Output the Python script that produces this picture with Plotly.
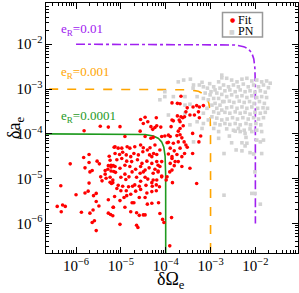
import numpy as np
import plotly.graph_objects as go

# log10(dOmega_e), log10(da_e) pairs
fit_points = [
(-5.82,-3.93),(-5.46,-3.83),(-5.28,-3.85),(-5.83,-4.53),(-5.71,-4.46),(-6.13,-4.67),(-5.80,-4.76),(-5.71,-4.64),
(-5.53,-4.61),(-5.48,-4.67),(-5.26,-4.50),(-5.15,-4.30),(-5.24,-4.59),(-5.28,-4.71),(-5.22,-4.74),(-5.29,-4.79),
(-5.35,-4.82),(-5.64,-4.82),(-5.17,-4.71),(-5.69,-4.85),(-6.34,-5.16),(-5.45,-4.96),(-5.33,-4.99),(-5.24,-4.97),
(-5.16,-4.84),(-5.35,-4.90),(-5.42,-5.05),(-5.24,-5.08),(-5.18,-5.03),(-5.21,-5.11),(-5.71,-5.10),(-6.00,-5.36),
(-5.80,-5.32),(-5.73,-5.28),(-5.55,-5.33),(-5.61,-5.38),(-5.28,-5.47),(-5.55,-5.51),(-5.49,-5.61),(-5.17,-5.64),
(-6.42,-5.62),(-6.30,-5.59),(-6.24,-5.62),(-6.33,-5.74),(-5.88,-5.75),(-5.69,-5.77),(-5.62,-5.70),(-5.28,-5.77),
(-5.23,-5.80),(-5.18,-5.83),(-5.59,-5.94),(-5.64,-5.98),(-5.55,-6.16),
(-5.22,-4.83),(-5.12,-4.86),(-5.00,-4.97),(-4.91,-4.90),(-4.89,-5.02),(-4.82,-4.96),(-4.75,-4.85),(-4.65,-4.97),
(-4.57,-4.88),(-4.50,-4.85),(-4.46,-4.97),(-4.40,-5.01),(-4.56,-5.06),(-4.31,-5.09),(-4.20,-5.03),(-4.09,-4.94),
(-4.17,-4.83),(-4.30,-5.17),(-4.44,-5.15),(-4.59,-5.17),(-4.69,-5.14),(-4.74,-5.17),(-4.83,-5.18),(-4.96,-5.17),
(-5.06,-5.15),(-5.18,-5.09),(-5.09,-5.22),(-5.00,-5.27),(-4.88,-5.27),(-4.78,-5.35),(-4.67,-5.28),(-4.56,-5.24),
(-4.42,-5.32),(-4.21,-5.27),(-3.85,-5.09),(-5.14,-5.40),(-5.02,-5.49),(-4.93,-5.42),(-4.87,-5.38),(-4.59,-5.42),
(-4.46,-5.42),(-4.75,-5.54),(-4.71,-5.54),(-4.41,-5.57),(-4.31,-5.55),(-4.16,-5.54),(-5.17,-5.64),(-4.91,-5.64),
(-4.78,-5.74),(-4.65,-5.76),(-4.59,-5.82),(-4.50,-5.81),(-4.46,-5.81),(-4.13,-5.78),(-4.07,-5.91),(-4.04,-5.98),
(-3.87,-5.87),(-5.02,-6.02),(-4.65,-6.04),(-4.62,-6.09),(-3.91,-6.50),
(-5.02,-3.84),(-4.56,-3.68),(-4.46,-3.63),(-4.40,-3.73),(-4.21,-3.64),(-4.11,-3.85),(-4.29,-3.90),(-4.24,-3.86),
(-4.57,-3.94),(-3.86,-3.31),(-3.68,-3.33),(-3.66,-3.16),(-3.74,-3.60),(-3.70,-3.69),(-3.62,-3.64),(-3.83,-3.71),
(-3.88,-3.84),(-3.68,-3.88),(-3.72,-3.94),(-4.91,-4.06),(-4.46,-4.06),(-4.33,-4.10),(-3.90,-4.06),(-3.75,-4.04),
(-3.64,-4.09),(-3.94,-4.19),(-3.83,-4.21),(-3.72,-4.18),(-5.13,-4.29),(-5.06,-4.32),(-4.98,-4.32),(-4.86,-4.29),
(-4.80,-4.32),(-4.69,-4.29),(-4.56,-4.25),(-4.50,-4.31),(-4.35,-4.31),(-4.24,-4.25),(-4.13,-4.36),(-5.13,-4.44),
(-5.03,-4.46),(-4.96,-4.41),(-4.88,-4.47),(-4.78,-4.51),(-4.71,-4.44),(-4.61,-4.47),(-4.51,-4.40),(-4.41,-4.36),
(-4.36,-4.47),(-4.27,-4.44),(-4.20,-4.46),(-3.90,-4.32),(-3.81,-4.38),(-3.68,-4.32),(-3.86,-4.51),(-3.75,-4.46),
(-3.64,-4.51),(-5.09,-4.58),(-4.98,-4.55),(-4.87,-4.61),(-4.76,-4.62),(-4.63,-4.58),(-4.53,-4.66),(-4.42,-4.61),
(-4.31,-4.66),(-4.20,-4.62),(-5.22,-4.70),(-5.13,-4.73),(-5.02,-4.77),(-4.91,-4.70),(-4.80,-4.73),(-4.67,-4.79),
(-4.56,-4.73),(-4.46,-4.81),(-4.37,-4.76),(-4.24,-4.79),(-4.17,-4.70),(-3.90,-4.66),(-3.81,-4.71),(-3.72,-4.62),
(-3.64,-4.73),(-3.86,-4.81),
(-4.28,-4.08),(-4.09,-4.06),(-4.02,-4.05),(-3.94,-4.03),(-3.68,-4.02),(-3.40,-3.99),(-3.22,-4.05),(-3.26,-4.18),
(-3.59,-4.18),(-3.55,-4.25),(-3.52,-4.30),(-3.40,-4.44),(-3.58,-4.44),(-3.97,-4.20),(-3.94,-4.45),(-3.86,-4.55),
(-3.79,-4.62),(-3.46,-4.77),(-3.91,-4.85),(-3.97,-4.96),(-3.99,-5.03),(-3.31,-5.11),(-4.14,-5.18),(-4.28,-5.03),
(-4.21,-5.14),(-4.31,-5.29),(-4.13,-4.73),(-4.31,-4.51),(-4.09,-4.62),(-4.17,-4.85),(-4.28,-4.88),(-4.09,-4.96),
(-3.74,-3.32),(-3.52,-3.42),(-3.39,-3.40),(-3.31,-3.37),(-3.25,-3.40),(-3.16,-3.37),(-3.55,-3.51),
(-3.46,-3.58),(-3.36,-3.58),(-3.27,-3.51),(-3.25,-3.64),(-3.66,-3.62),(-3.58,-3.62),(-3.86,-3.69),(-3.68,-3.73),
(-3.61,-3.82),(-4.33,-3.84),(-4.20,-3.82),(-4.50,-3.77),
]

pn_points = [
(-3.19,-2.85),(-3.25,-2.91),(-3.16,-2.95),(-3.02,-2.88),(-2.93,-2.95),(-2.75,-2.75),(-2.82,-2.84),(-2.79,-2.98),
(-2.71,-2.91),(-2.90,-3.02),(-3.07,-2.98),(-2.99,-3.06),(-2.86,-3.09),(-2.75,-3.12),(-3.01,-3.13),(-3.12,-3.09),
(-2.93,-3.21),(-2.82,-3.21),(-2.73,-3.28),(-3.05,-3.24),(-2.90,-3.32),(-2.79,-3.36),(-2.97,-3.36),(-2.86,-3.43),
(-2.75,-3.47),(-2.93,-3.51),(-2.82,-3.54),(-2.97,-3.62),(-2.86,-3.65),(-2.75,-3.69),(-2.90,-3.77),(-2.79,-3.80),
(-4.13,-3.24),(-4.02,-3.06),(-3.83,-3.17),(-3.57,-3.36),(-3.46,-3.34),(-3.57,-3.17),(-3.38,-2.91),(-3.39,-2.98),
(-3.30,-3.17),(-3.16,-3.21),(-3.08,-3.43),(-3.16,-3.54),(-3.05,-3.69),(-3.16,-3.77),(-2.93,-3.88),(-2.82,-3.95),
(-3.30,-3.73),(-3.46,-3.80),(-3.94,-3.58),(-3.57,-3.54),(-3.19,-3.88),(-4.02,-3.17),(-3.72,-2.84),(-3.60,-2.80),
(-3.45,-2.78),
(-2.75,-2.69),(-2.64,-2.76),(-2.53,-2.80),(-2.41,-2.84),(-2.30,-2.78),(-2.19,-2.76),(-2.08,-2.82),(-1.97,-2.80),
(-1.86,-2.84),(-1.75,-2.82),(-1.67,-2.87),(-2.60,-2.95),(-2.49,-2.91),(-2.38,-2.95),(-2.27,-2.89),(-2.16,-2.95),
(-2.04,-2.91),(-1.93,-2.95),(-1.82,-2.91),(-1.71,-2.97),(-2.68,-3.04),(-2.57,-3.02),(-2.45,-3.06),(-2.34,-3.02),
(-2.23,-3.06),(-2.12,-3.04),(-2.01,-3.07),(-1.89,-3.04),(-1.78,-3.07),(-2.64,-3.17),(-2.53,-3.13),(-2.41,-3.17),
(-2.30,-3.15),(-2.19,-3.19),(-2.08,-3.15),(-1.97,-3.19),(-1.86,-3.17),(-1.75,-3.19),(-2.70,-3.28),(-2.58,-3.27),
(-2.48,-3.30),(-2.36,-3.27),(-2.25,-3.30),(-2.13,-3.28),(-2.03,-3.32),(-1.91,-3.28),(-1.80,-3.32),(-2.64,-3.42),
(-2.53,-3.40),(-2.41,-3.43),(-2.30,-3.40),(-2.19,-3.43),(-2.08,-3.40),(-1.95,-3.43),(-1.83,-3.42),(-1.73,-3.43),
(-2.68,-3.52),(-2.57,-3.54),(-2.45,-3.51),(-2.34,-3.54),(-2.23,-3.52),(-2.12,-3.56),(-2.01,-3.52),(-1.89,-3.54),
(-1.78,-3.52),(-2.63,-3.67),(-2.51,-3.64),(-2.40,-3.67),(-2.28,-3.64),(-2.16,-3.67),(-2.04,-3.64),(-1.93,-3.67),
(-1.82,-3.64),(-2.68,-3.77),(-2.57,-3.79),(-2.45,-3.77),(-2.34,-3.80),(-2.21,-3.77),(-2.11,-3.80),(-1.99,-3.77),
(-1.88,-3.80),(-2.64,-3.89),(-2.49,-3.92),(-2.38,-3.88),(-2.25,-3.92),(-2.12,-3.89),(-1.97,-3.92),
(-2.58,-4.05),(-2.45,-3.94),(-2.34,-3.95),(-2.23,-3.99),(-2.21,-4.08),(-2.30,-4.20),(-2.19,-4.21),(-2.23,-4.27),
(-2.53,-4.20),(-2.43,-4.36),(-2.30,-4.38),(-2.12,-4.42),(-2.04,-4.45),(-1.86,-4.44),(-1.97,-4.14),(-1.89,-4.18),
(-1.82,-4.14),(-2.08,-3.95),(-1.86,-3.95),(-2.70,-4.44),(-2.01,-4.85),(-2.08,-5.33),(-2.01,-5.33),(-2.70,-5.37),
(-1.89,-5.57),(-2.82,-4.10),(-3.38,-4.18),
]

e_R_values = [0.0001, 0.001, 0.01]
e_R_labels = ["0.0001", "0.001", "0.01"]
curve_colors = ["#1f9a1f", "#ffa500", "#a020f0"]
curve_dash = ["solid", "dash", "dashdot"]
curve_start = [1e-7, 1e-7, 1e-6]
label_y_exp = [-3.62, -2.64, -1.68]
legend_names = ["Fit", "PN"]
legend_colors = ["#ff0000", "#d3d3d3"]
P = 2.3

SERIF = "Times New Roman, Liberation Serif, DejaVu Serif, serif"
W, H = 299, 293
L, R, T, B = 46, 1, 3, 40
PW, PH = W - L - R, H - T - B


def px_x(p):
    return (p - L) / PW


def px_y(p):
    return 1 - (p - T) / PH


fit_x = [10 ** p[0] for p in fit_points]
fit_y = [10 ** p[1] for p in fit_points]
pn_x = [10 ** p[0] for p in pn_points]
pn_y = [10 ** p[1] for p in pn_points]

fig = go.Figure()

for e, col, dash, start in zip(e_R_values, curve_colors, curve_dash, curve_start):
    corner = e * 2 ** (-1 / P)
    xa = np.logspace(np.log10(start), np.log10(corner), 300)
    ya = e * (1 - (xa / e) ** P) ** (1 / P)
    yb = np.logspace(np.log10(corner), np.log10(start), 300)
    xb = e * (1 - (yb / e) ** P) ** (1 / P)
    fig.add_trace(go.Scatter(x=np.concatenate([xa, xb]), y=np.concatenate([ya, yb]),
                             mode="lines", line=dict(color=col, width=1.6, dash=dash),
                             showlegend=False, hoverinfo="skip"))

fig.add_trace(go.Scatter(x=pn_x, y=pn_y, mode="markers", name="PN", showlegend=False,
                         marker=dict(symbol="square", size=3.6, color="#d3d3d3")))
fig.add_trace(go.Scatter(x=fit_x, y=fit_y, mode="markers", name="Fit", showlegend=False,
                         marker=dict(symbol="circle", size=3.6, color="#ff0000")))

for lab, col, ly in zip(e_R_labels, curve_colors, label_y_exp):
    fig.add_annotation(x=-6.36, y=ly, xref="x", yref="y", xanchor="left", yanchor="middle",
                       text=f"e<sub>R</sub>=" + lab, showarrow=False, borderpad=0,
                       font=dict(family=SERIF, size=13, color=col))

# compact legend: box, symbols, names
fig.add_shape(type="rect", xref="paper", yref="paper",
              x0=px_x(222.5), x1=px_x(262.5), y0=px_y(37), y1=px_y(12.5),
              line=dict(color="#999999", width=1.5), fillcolor="white", layer="above")
legend_syms = ["●", "■"]
legend_sym_sizes = [6, 6]
for i, (name, col, sym, ss) in enumerate(zip(legend_names, legend_colors, legend_syms, legend_sym_sizes)):
    yc = 19.5 + 12 * i
    fig.add_annotation(x=px_x(232), y=px_y(yc), xref="paper", yref="paper",
                       xanchor="center", yanchor="middle", showarrow=False, borderpad=0,
                       text=sym, font=dict(family="DejaVu Sans", size=ss, color=col))
    fig.add_annotation(x=px_x(236.5), y=px_y(yc), xref="paper", yref="paper",
                       xanchor="left", yanchor="middle", showarrow=False, borderpad=0,
                       text=name, font=dict(family=SERIF, size=12, color="black"))

# axis titles
fig.add_annotation(x=px_x(171), y=px_y(268), xref="paper", yref="paper",
                   xanchor="center", yanchor="top", showarrow=False, borderpad=0,
                   text="δΩ<sub>e</sub>", font=dict(family=SERIF, size=18, color="black"))
fig.add_annotation(x=px_x(15), y=px_y(128), xref="paper", yref="paper",
                   xanchor="center", yanchor="middle", showarrow=False, textangle=-90,
                   text="δa<sub>e</sub>", font=dict(family=SERIF, size=18, color="black"))

axis_common = dict(type="log", showgrid=False, zeroline=False, showline=True, linecolor="black",
                   linewidth=1, mirror="ticks", ticks="inside", ticklen=6, tickwidth=1,
                   tickcolor="black", dtick=1, exponentformat="power",
                   tickfont=dict(family=SERIF, size=12, color="black"),
                   minor=dict(ticks="inside", ticklen=3, tickcolor="black", tickwidth=1, showgrid=False))

fig.update_xaxes(**axis_common, range=[-6.67, -1.05])
fig.update_yaxes(**axis_common, range=[-6.66, -1.08])

fig.update_layout(width=W, height=H, margin=dict(l=L, r=R, t=T, b=B, autoexpand=False),
                  paper_bgcolor="white", plot_bgcolor="white", showlegend=False,
                  font=dict(family=SERIF, color="black"))

fig.write_html("out.html", config={"displayModeBar": False},
               post_script="document.body.style.margin='0px';")
